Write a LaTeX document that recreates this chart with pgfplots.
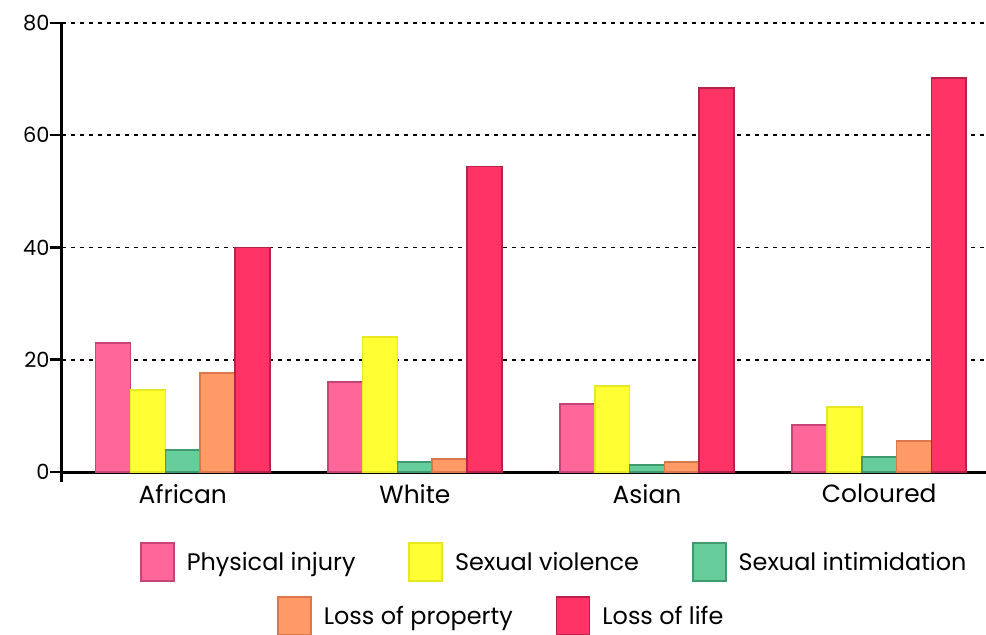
\documentclass[border=0pt]{standalone}
\usepackage{fontspec}
\setmainfont{Poppins}
\usepackage{pgfplots}
\pgfplotsset{compat=1.18}
\definecolor{cPI}{HTML}{FF6699}
\definecolor{dPI}{HTML}{C84477}
\definecolor{cSV}{HTML}{FFFF33}
\definecolor{dSV}{HTML}{E8E820}
\definecolor{cSI}{HTML}{66CC99}
\definecolor{dSI}{HTML}{3F9A6E}
\definecolor{cLP}{HTML}{FF9966}
\definecolor{dLP}{HTML}{D9784A}
\definecolor{cLL}{HTML}{FF3366}
\definecolor{dLL}{HTML}{B8214A}
\pgfplotsset{
  mybar/.style n args={2}{fill=#1, draw=#2, line width=1.6bp,
    legend image code/.code={\draw[##1, line width=1.6bp] (0bp,-19bp) rectangle (33bp,19bp);}},
  mylegend/.style={legend style={draw=none, fill=none, inner sep=0pt,
    font=\fontsize{24}{24}\selectfont, cells={anchor=west},
    /tikz/every odd column/.append style={column sep=10bp},
    /tikz/every even column/.append style={column sep=#1}}},
}
\begin{document}
\begin{tikzpicture}
\begin{axis}[
  scale only axis, width=924bp, height=449bp, at={(0,0)}, anchor=south west,
  xmin=-0.52, xmax=3.46, ymin=0, ymax=80,
  axis x line*=bottom, axis y line*=left,
  axis line style={line width=3bp, -},
  y axis line style={shorten <=-10bp},
  xtick={0,1,2,3}, xticklabels={African,White,Asian,Coloured},
  xtick style={draw=none},
  ytick={0,20,40,60,80},
  ytick style={draw=black, line width=2.5bp},
  tick align=outside, major tick length=12bp,
  ymajorgrids, grid style={black, line width=1.8bp, dash pattern=on 4bp off 5bp},
  /pgf/number format/assume math mode=true,
  yticklabel style={font=\fontsize{21}{21}\selectfont, xshift=3bp},
  xticklabel style={font=\fontsize{25}{25}\selectfont, yshift=3bp},
  ybar, bar width=0.15,
  mylegend=51bp, legend columns=3,
  legend style={at={(axis description cs:0.0844,-0.2)}, anchor=west},
]
\addplot[mybar={cPI}{dPI}, bar shift=-0.3] coordinates {(0,23.0) (1,16.0) (2,12.1) (3,8.4)};
\addplot[mybar={cSV}{dSV}, bar shift=-0.15] coordinates {(0,14.6) (1,24.1) (2,15.3) (3,11.6)};
\addplot[mybar={cSI}{dSI}, bar shift=0] coordinates {(0,3.9) (1,1.8) (2,1.3) (3,2.7)};
\addplot[mybar={cLP}{dLP}, bar shift=0.15] coordinates {(0,17.6) (1,2.3) (2,1.8) (3,5.5)};
\addplot[mybar={cLL}{dLL}, bar shift=0.3] coordinates {(0,40.0) (1,54.4) (2,68.4) (3,70.2)};
\legend{Physical injury, Sexual violence, Sexual intimidation}
\end{axis}
\begin{axis}[
  scale only axis, width=924bp, height=449bp, at={(0,0)}, anchor=south west,
  xmin=0, xmax=1, ymin=0, ymax=1, hide axis,
  mylegend=41bp, legend columns=2,
  legend style={at={(axis description cs:0.2327,-0.3207)}, anchor=west},
]
\addlegendimage{mybar={cLP}{dLP}}
\addlegendentry{Loss of property}
\addlegendimage{mybar={cLL}{dLL}}
\addlegendentry{Loss of life}
\end{axis}
\pgfresetboundingbox
\path[use as bounding box] (-62bp,-163bp) rectangle (924bp,472bp);
\end{tikzpicture}
\end{document}
